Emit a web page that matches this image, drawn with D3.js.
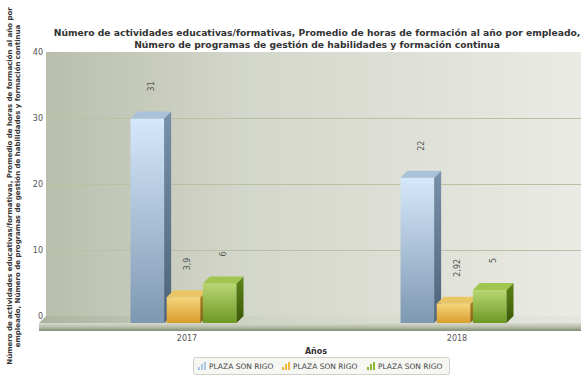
<!DOCTYPE html>
<html>
<head>
<meta charset="utf-8">
<script src="https://cdn.jsdelivr.net/npm/d3@7"></script>
<style>
  html, body { margin: 0; padding: 0; background: #ffffff; }
  svg { display: block; font-family: "DejaVu Sans", Verdana, sans-serif; }
</style>
</head>
<body>
<svg id="chart" width="581" height="376"></svg>
<script>
// Series data per year
const categories = ["2017", "2018"];
const seriesNames = ["PLAZA SON RIGO", "PLAZA SON RIGO", "PLAZA SON RIGO"];
const actividades = [31, 22];
const promedioHoras = [3.9, 2.92];
const programas = [6, 5];
const yTicks = [0, 10, 20, 30, 40];

const titleLines = [
  "Número de actividades educativas/formativas, Promedio de horas de formación al año por empleado,",
  "Número de programas de gestión de habilidades y formación continua"
];
const yTitleLines = [
  "Número de actividades educativas/formativas, Promedio de horas de formación al año por",
  "empleado, Número de programas de gestión de habilidades y formación continua"
];
const xTitle = "Años";

const seriesValues = [actividades, promedioHoras, programas];

// face colours per series: front gradient (top, bottom), side gradient, top face, legend glyph
const palette = [
  { f0: "#d6e8fb", f1: "#7e98b2", s0: "#7890a9", s1: "#4d6379", t: "#a9c1d9", g: "#a8c6e6" },
  { f0: "#f6d57c", f1: "#d99c2c", s0: "#b8871f", s1: "#85600e", t: "#e9c565", g: "#f0b83c" },
  { f0: "#b9d774", f1: "#6d9824", s0: "#5e8519", s1: "#3b5807", t: "#a0c650", g: "#8db83a" }
];

const svg = d3.select("#chart");
const depth = 7;
const wallLeft = 46, wallRight = 600;

const y = d3.scaleLinear().domain([0, 40]).range([316, 52]);
const x0 = d3.scaleBand().domain(categories).range([52, 592]);
const groupWidth = 106;
const x1 = d3.scaleBand().domain(d3.range(seriesNames.length)).range([0, groupWidth]).paddingInner(0.07);

const fmt = v => String(v).replace(".", ",");

const defs = svg.append("defs");

function linGrad(id, horizontal, stops) {
  const g = defs.append("linearGradient").attr("id", id)
    .attr("x1", 0).attr("y1", 0)
    .attr("x2", horizontal ? 1 : 0).attr("y2", horizontal ? 0 : 1);
  stops.forEach(([o, c]) => g.append("stop").attr("offset", o).attr("stop-color", c));
}

linGrad("wallGrad", true, [[0, "#b9beac"], [0.35, "#d3d6ca"], [0.7, "#e0e2d9"], [1, "#ebece6"]]);
linGrad("floorTop", true, [[0, "#adb39e"], [0.4, "#d0d4c5"], [1, "#e6e8e0"]]);
linGrad("floorFront", false, [[0, "#d6dacd"], [0.45, "#bcc2ae"], [1, "#838e74"]]);
palette.forEach((p, i) => {
  linGrad("front" + i, false, [[0, p.f0], [1, p.f1]]);
  linGrad("side" + i, false, [[0, p.s0], [1, p.s1]]);
});

// Title
svg.append("g").selectAll("text").data(titleLines).join("text")
  .attr("x", 317).attr("y", (d, i) => 36 + i * 11.5)
  .attr("text-anchor", "middle")
  .attr("font-size", 9.2).attr("font-weight", "bold").attr("fill", "#333")
  .text(d => d);

// Back wall
svg.append("rect")
  .attr("x", wallLeft).attr("y", y(40))
  .attr("width", wallRight - wallLeft).attr("height", y(0) - y(40))
  .attr("fill", "url(#wallGrad)");

// Gridlines
svg.append("g").selectAll("line").data(yTicks.filter(t => t > 0 && t < 40)).join("line")
  .attr("x1", wallLeft).attr("x2", wallRight)
  .attr("y1", d => Math.round(y(d)) + 0.5).attr("y2", d => Math.round(y(d)) + 0.5)
  .attr("stroke", "#bac0a2").attr("stroke-width", 1);

// Y axis tick labels
const yAxis = d3.axisLeft(y).tickValues(yTicks).tickSize(0).tickPadding(0);
const yG = svg.append("g").attr("transform", `translate(${wallLeft - 3},0)`).call(yAxis);
yG.select(".domain").remove();
yG.selectAll("text").attr("font-size", 8).attr("fill", "#555")
  .attr("font-family", "'DejaVu Sans', Verdana, sans-serif");

// Floor slab
const floor = svg.append("g");
floor.append("polygon")
  .attr("points", [[wallLeft, y(0)], [wallRight, y(0)], [wallRight, y(0) + depth], [wallLeft - depth, y(0) + depth]].join(" "))
  .attr("fill", "url(#floorTop)");
floor.append("rect")
  .attr("x", wallLeft - depth).attr("y", y(0) + depth)
  .attr("width", wallRight - wallLeft + depth).attr("height", 8)
  .attr("fill", "url(#floorFront)");

// Bars as 3D prisms
const bars = [];
categories.forEach((c, ci) => {
  seriesValues.forEach((vals, si) => {
    bars.push({ cat: c, s: si, v: vals[ci] });
  });
});

const barG = svg.append("g");
const w = x1.bandwidth();
bars.forEach(b => {
  const xl = x0(b.cat) + x0.bandwidth() / 2 - groupWidth / 2 - depth / 2 + x1(b.s);
  const yt = y(b.v), yb = y(0);
  const g = barG.append("g");
  g.append("rect")
    .attr("x", xl).attr("y", yt + depth)
    .attr("width", w).attr("height", yb - yt)
    .attr("fill", `url(#front${b.s})`);
  g.append("polygon")
    .attr("points", [[xl + w, yt + depth], [xl + w + depth, yt], [xl + w + depth, yb], [xl + w, yb + depth]].join(" "))
    .attr("fill", `url(#side${b.s})`);
  g.append("polygon")
    .attr("points", [[xl, yt + depth], [xl + depth, yt], [xl + w + depth, yt], [xl + w, yt + depth]].join(" "))
    .attr("fill", palette[b.s].t);
  // value label, rotated
  const cx = xl + w / 2 + depth / 2;
  g.append("text")
    .attr("transform", `translate(${cx + 3},${yt - 20}) rotate(-90)`)
    .attr("text-anchor", "start")
    .attr("font-size", 8).attr("fill", "#555")
    .text(fmt(b.v));
});

// X axis category labels
const xAxis = d3.axisBottom(x0).tickSize(0).tickPadding(0);
const xG = svg.append("g").attr("transform", `translate(0,${y(0) + depth + 18})`).call(xAxis);
xG.select(".domain").remove();
xG.selectAll("text").attr("font-size", 8).attr("fill", "#555").attr("dy", 0)
  .attr("font-family", "'DejaVu Sans', Verdana, sans-serif");

// X axis title
svg.append("text").attr("x", 316).attr("y", 354)
  .attr("text-anchor", "middle").attr("font-size", 8).attr("font-weight", "bold").attr("fill", "#333")
  .text(xTitle);

// Y axis title (two rotated lines)
svg.append("g").selectAll("text").data(yTitleLines).join("text")
  .attr("transform", (d, i) => `translate(${12 + i * 8},186) rotate(-90)`)
  .attr("text-anchor", "middle").attr("font-size", 7).attr("font-weight", "bold").attr("fill", "#333")
  .text(d => d);

// Legend
const legend = svg.append("g");
legend.append("rect")
  .attr("x", 193.5).attr("y", 357.5).attr("width", 256).attr("height", 17).attr("rx", 2)
  .attr("fill", "#f6f6f3").attr("stroke", "#cfd0c8");
const itemX = [198, 282, 367];
seriesNames.forEach((name, i) => {
  const it = legend.append("g").attr("transform", `translate(${itemX[i]},360)`);
  // small bar glyph
  [[0, 6, 3], [3, 3, 6], [6, 1, 8]].forEach(([dx, dy, h]) => {
    it.append("rect").attr("x", dx).attr("y", dy + 1).attr("width", 2).attr("height", h)
      .attr("fill", palette[i].g);
  });
  it.append("text").attr("x", 11).attr("y", 9)
    .attr("font-size", 7.5).attr("fill", "#444").text(name);
});
</script>
</body>
</html>
